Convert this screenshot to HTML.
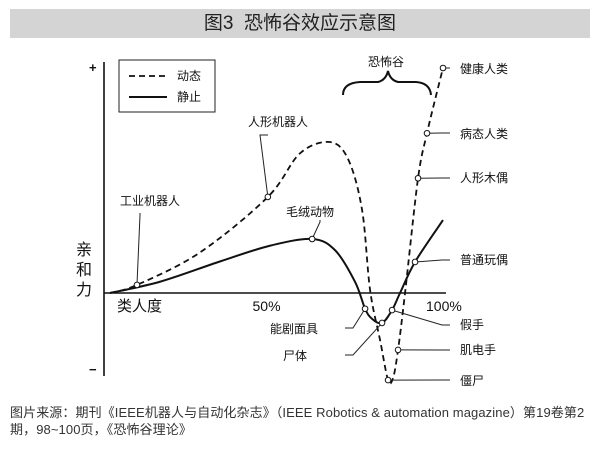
<!DOCTYPE html>
<html><head><meta charset="utf-8"><style>
body{margin:0;background:#fff;width:600px;height:452px;overflow:hidden;font-family:"Liberation Sans","Noto Sans CJK SC",sans-serif}
#bar{position:absolute;left:10px;top:9px;width:580px;height:29px;background:#d4d4d4;text-align:center;font-size:19px;line-height:29px;color:#222}
#foot{position:absolute;left:10px;top:404px;width:590px;font-size:13px;letter-spacing:0.1px;line-height:17px;color:#333;white-space:nowrap}
svg{position:absolute;left:0;top:0}
text{font-family:"Liberation Sans","Noto Sans CJK SC",sans-serif;fill:#111}
</style></head><body>
<div id="bar">图3&nbsp; 恐怖谷效应示意图</div>
<svg id="c" width="600" height="452"></svg>
<div id="foot">图片来源：期刊《IEEE机器人与自动化杂志》（IEEE Robotics &amp; automation magazine）第19卷第2<br>期，98~100页，《恐怖谷理论》</div>
<script>
const dynX=[0,8.1,27,47.4,57,66,71.5,75.7,78.1,81.1,83.5,85,86.5,88.6,92.5,95.2,97.6,100];
const dynY=[0,3.6,18,42.7,62,67.1,59.5,36.9,1.3,-20.9,-38.7,-37.8,-25.3,0,51,71,85.8,100];
const staX=[0,15,33,48,60.7,67.6,73.6,76.6,78.7,81.7,84.7,87.1,91.6,100];
const staY=[0,5,14,21,24,19,4.9,-7,-11.5,-13.3,-7.6,0,13.8,32.4];
const ticks=["50%","100%"];
const tickV=[50,100];
const NS="http://www.w3.org/2000/svg";
const svg=document.getElementById('c');
const sx=v=>110+v*3.33, sy=v=>293-v*2.25;
function el(t,a,p){const e=document.createElementNS(NS,t);for(const k in a)e.setAttribute(k,a[k]);(p||svg).appendChild(e);return e;}
function path(xs,ys){const P=xs.map((x,i)=>[sx(x),sy(ys[i])]);let d="M"+P[0];for(let i=0;i<P.length-1;i++){const p0=P[i-1]||P[i],p1=P[i],p2=P[i+1],p3=P[i+2]||p2;d+=" C"+(p1[0]+(p2[0]-p0[0])/6)+","+(p1[1]+(p2[1]-p0[1])/6)+" "+(p2[0]-(p3[0]-p1[0])/6)+","+(p2[1]-(p3[1]-p1[1])/6)+" "+p2;}return d;}
let e;
e=el('line',{x1:104,y1:62,x2:104,y2:376,stroke:'#111','stroke-width':1.6});

e=el('line',{x1:104,y1:293,x2:446,y2:293,stroke:'#111','stroke-width':1.6});

el('text',{x:89,y:72,'font-size':13,'font-weight':'bold'}).textContent='+';
el('text',{x:89,y:374,'font-size':13,'font-weight':'bold'}).textContent='−';
[['亲',255],['和',275],['力',295]].forEach(a=>{e=el('text',{x:76,y:a[1],'font-size':16});e.textContent=a[0];});
e=el('text',{x:117,y:311,'font-size':15});e.textContent='类人度';

ticks.forEach((t,i)=>{const tx=el('text',{x:sx(tickV[i])-(i?17:0)+ (i?0:-24),y:311,'font-size':14});tx.textContent=t;
});
e=el('path',{d:path(staX,staY),fill:'none',stroke:'#111','stroke-width':2});

e=el('path',{d:path(dynX,dynY),fill:'none',stroke:'#111','stroke-width':1.8,'stroke-dasharray':'6,4'});

const ann=[
[dynX,dynY,1,'工业机器人',120,215,120,205],
[dynX,dynY,3,'人形机器人',268,135,248,126],
[staX,staY,4,'毛绒动物',300,222,286,216],
[dynX,dynY,17,'健康人类',450,68,460,73],
[dynX,dynY,15,'病态人类',450,133,460,138],
[dynX,dynY,14,'人形木偶',450,178,460,182],
[staX,staY,12,'普通玩偶',450,260,460,264],
[dynX,dynY,12,'肌电手',450,350,460,354],
[dynX,dynY,10,'僵尸',450,380,460,385],
[staX,staY,10,'假手',450,325,460,329],
[staX,staY,7,'能剧面具',345,328,270,333],
[staX,staY,9,'尸体',345,355,283,360]];
ann.forEach(a=>{const px=sx(a[0][a[2]]),py=sy(a[1][a[2]]);
const l=el('polyline',{points:`${px},${py} ${a[4]<px?a[4]+8:a[4]-8},${a[5]} ${a[4]},${a[5]}`,fill:'none',stroke:'#222','stroke-width':1});
if(a[4]<px&&a[3].length>2&&a[7]<240)l.setAttribute('points',`${px},${py} ${a[4]+20},${a[5]} ${a[4]+20},${a[5]-2}`);

const c=el('circle',{cx:px,cy:py,r:2.8,fill:'#fff',stroke:'#111','stroke-width':1});

const t=el('text',{x:a[6],y:a[7],'font-size':12});t.textContent=a[3];
});
e=el('rect',{x:119,y:60,width:96,height:52,fill:'#fff',stroke:'#222','stroke-width':1});

el('line',{x1:129,y1:76,x2:167,y2:76,stroke:'#111','stroke-width':1.8,'stroke-dasharray':'6,4'});
el('line',{x1:129,y1:97,x2:167,y2:97,stroke:'#111','stroke-width':2});
e=el('text',{x:177,y:80,'font-size':12});e.textContent='动态';
e=el('text',{x:177,y:101,'font-size':12});e.textContent='静止';
e=el('path',{d:'M343,95 Q343,83 360,82 L378,82 Q386,80 388,71 Q390,80 398,82 L416,82 Q430,83 431,95',fill:'none',stroke:'#111','stroke-width':2});

e=el('text',{x:368,y:66,'font-size':12});e.textContent='恐怖谷';
</script>
</body></html>
